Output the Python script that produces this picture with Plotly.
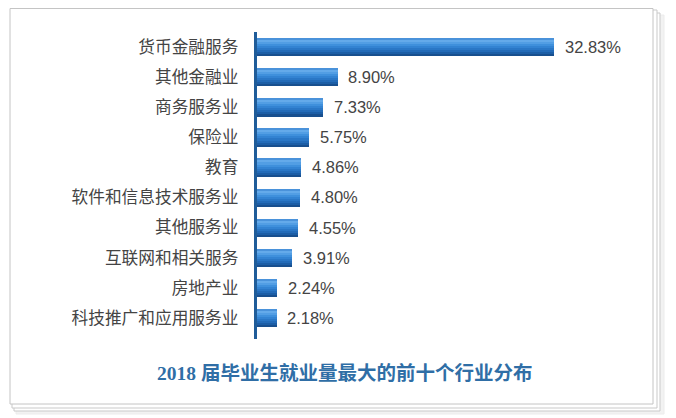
import plotly.graph_objects as go

# data
industries = ['货币金融服务', '其他金融业', '商务服务业', '保险业', '教育',
              '软件和信息技术服务业', '其他服务业', '互联网和相关服务',
              '房地产业', '科技推广和应用服务业']
shares = [32.83, 8.90, 7.33, 5.75, 4.86, 4.80, 4.55, 3.91, 2.24, 2.18]
share_labels = ['32.83%', '8.90%', '7.33%', '5.75%', '4.86%',
                '4.80%', '4.55%', '3.91%', '2.24%', '2.18%']
title_text = '2018 届毕业生就业量最大的前十个行业分布'

W, H = 676, 418
OFF = 8  # page body margin shifts the figure by 8px

# bar drawn as overlapping layers (top -> bottom) to fake the cylinder shading
band_colors = ['#4a92da', '#64aaea', '#529ee4', '#3f90dc', '#3383d2',
               '#2a77c6', '#236bb8', '#1c5ea6', '#184f8e']
bar_w = 0.61
band = bar_w / len(band_colors)

fig = go.Figure()
for i, c in enumerate(band_colors):
    fig.add_trace(go.Bar(
        x=shares, y=industries, orientation='h',
        width=bar_w - i * band, offset=-bar_w / 2 + i * band,
        marker=dict(color=c, line=dict(width=0)),
        hoverinfo='skip' if i else 'x+y', showlegend=False))

# value labels
for name, v, lab in zip(industries, shares, share_labels):
    fig.add_annotation(x=v, y=name, text=lab, showarrow=False,
                       xanchor='left', yanchor='middle', xshift=9,
                       font=dict(family='Liberation Sans, Arial', size=16.5, color='#444444'))

# title under the chart
fig.add_annotation(x=(344 - OFF) / W, y=1 - (373 - OFF) / H, xref='paper', yref='paper',
                   xanchor='center', yanchor='middle',
                   text='<b>' + title_text + '</b>', showarrow=False,
                   font=dict(family='Liberation Serif, Noto Sans CJK SC', size=19.5, color='#2f6ea6'))


# stacked "paper" frame (pixel coords of the reference)
def px_rect(x0, y0, x1, y1, line, fill):
    x0, y0, x1, y1 = x0 - OFF, max(y0 - OFF, 0.5), x1 - OFF, y1 - OFF
    return dict(type='rect', xref='paper', yref='paper', layer='below',
                x0=x0 / W, x1=x1 / W, y0=1 - y1 / H, y1=1 - y0 / H,
                line=dict(color=line, width=1), fillcolor=fill)


fig.update_layout(shapes=[
    px_rect(16, 15, 664, 414, '#ececec', '#f2f2f2'),
    px_rect(14, 13, 660, 411, '#c9c9c9', 'white'),
    px_rect(12, 10, 657, 408, '#c9c9c9', 'white'),
    px_rect(10, 7, 653, 404, '#c4c4c4', 'white'),
])

fig.update_layout(
    width=W, height=H,
    margin=dict(l=0, r=0, t=0, b=0),
    barmode='overlay', bargap=0,
    paper_bgcolor='white', plot_bgcolor='rgba(0,0,0,0)',
    font=dict(family='Noto Sans CJK SC, Liberation Sans', size=16, color='#444444'),
    xaxis=dict(domain=[(256.5 - OFF) / W, (256.5 - OFF + 40 * 9.06) / W], range=[0, 40],
               visible=False),
    yaxis=dict(domain=[1 - (339 - OFF) / H, 1 - (31.7 - OFF) / H], range=[9.7, -0.5],
               showline=True, linecolor='#1f5c99', linewidth=2.5,
               ticks='', showgrid=False, zeroline=False,
               ticklabelstandoff=12,
               tickfont=dict(family='Noto Sans CJK SC', size=16.7, color='#444444')),
)

fig.write_html("out.html")
